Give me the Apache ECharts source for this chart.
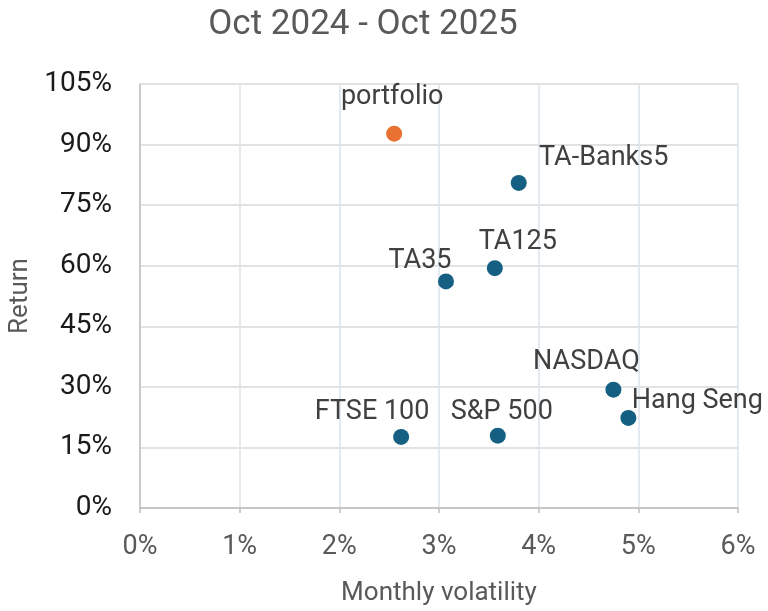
<!DOCTYPE html>
<html>
<head>
<meta charset="utf-8">
<script src="https://cdn.jsdelivr.net/npm/echarts@6/dist/echarts.min.js"></script>
<style>html,body{margin:0;padding:0;background:#fff}#c{width:768px;height:611px}</style>
</head>
<body>
<div id="c"></div>
<script>
// Data (volatility %, return %)
var names = ['portfolio', 'TA-Banks5', 'TA125', 'TA35', 'NASDAQ', 'Hang Seng', 'FTSE 100', 'S&P 500'];
var volatility = [2.55, 3.80, 3.56, 3.07, 4.75, 4.90, 2.62, 3.59];
var returns = [92.7, 80.5, 59.4, 56.1, 29.3, 22.3, 17.6, 17.9];
var xTicks = ['0%', '1%', '2%', '3%', '4%', '5%', '6%'];
var yTicks = ['0%', '15%', '30%', '45%', '60%', '75%', '90%', '105%'];

// Label placement (style only)
var labelOffsets = {
  'portfolio': [-2, -36],
  'TA-Banks5': [85, -25],
  'TA125': [23, -26],
  'TA35': [-26, -20],
  'NASDAQ': [-27, -27],
  'Hang Seng': [69, -17],
  'FTSE 100': [-29, -25],
  'S&P 500': [4, -23]
};
var FONT = 'Roboto';
var portfolioData = [], indexData = [];
names.forEach(function (n, i) {
  var item = {
    name: n,
    value: [volatility[i], returns[i]],
    label: { offset: labelOffsets[n] }
  };
  if (n === 'portfolio') portfolioData.push(item); else indexData.push(item);
});

var labelCfg = {
  show: true,
  position: 'inside',
  formatter: function (p) { return p.name; },
  color: '#404040',
  fontFamily: FONT,
  fontSize: 27
};

var chart = echarts.init(document.getElementById('c'), null, { renderer: 'canvas' });
chart.setOption({
  animation: false,
  title: {
    text: 'Oct 2024 - Oct 2025',
    left: 358, top: 3, textAlign: 'center',
    textStyle: { color: '#595959', fontFamily: FONT, fontSize: 35, fontWeight: 'normal' }
  },
  grid: { left: 140, right: 30, top: 84, bottom: 103, containLabel: false, outerBoundsMode: 'none' },
  xAxis: {
    type: 'value', min: 0, max: 6, interval: 1,
    name: 'Monthly volatility', nameLocation: 'middle', nameGap: 72,
    nameTextStyle: { color: '#595959', fontFamily: FONT, fontSize: 26 },
    axisLine: { show: true, lineStyle: { color: '#bfbfbf', width: 1.5 } },
    axisTick: { show: true, length: 5, lineStyle: { color: '#bfbfbf', width: 1.5 } },
    axisLabel: {
      margin: 26, color: '#595959', fontFamily: FONT, fontSize: 27,
      formatter: function (v) { return xTicks[Math.round(v)]; }
    },
    splitLine: { show: true, lineStyle: { color: '#dbe4eb', width: 1.5 } }
  },
  yAxis: {
    type: 'value', min: 0, max: 105, interval: 15,
    name: 'Return', nameLocation: 'middle', nameGap: 107, nameRotate: 90,
    nameTextStyle: { color: '#595959', fontFamily: FONT, fontSize: 26 },
    axisLine: { show: true, lineStyle: { color: '#bfbfbf', width: 1.5 } },
    axisTick: { show: false },
    axisLabel: {
      margin: 28, color: '#1a1a1a', fontFamily: FONT, fontSize: 28,
      formatter: function (v) { return yTicks[Math.round(v / 15)]; }
    },
    splitLine: { show: true, lineStyle: { color: '#d9d9d9', width: 1.5 } }
  },
  series: [
    {
      type: 'scatter', symbolSize: 16, data: indexData,
      itemStyle: { color: '#156082', opacity: 1 },
      label: labelCfg
    },
    {
      type: 'scatter', symbolSize: 16, data: portfolioData,
      itemStyle: { color: '#E97132', opacity: 1 },
      label: labelCfg
    }
  ]
});
</script>
</body>
</html>
